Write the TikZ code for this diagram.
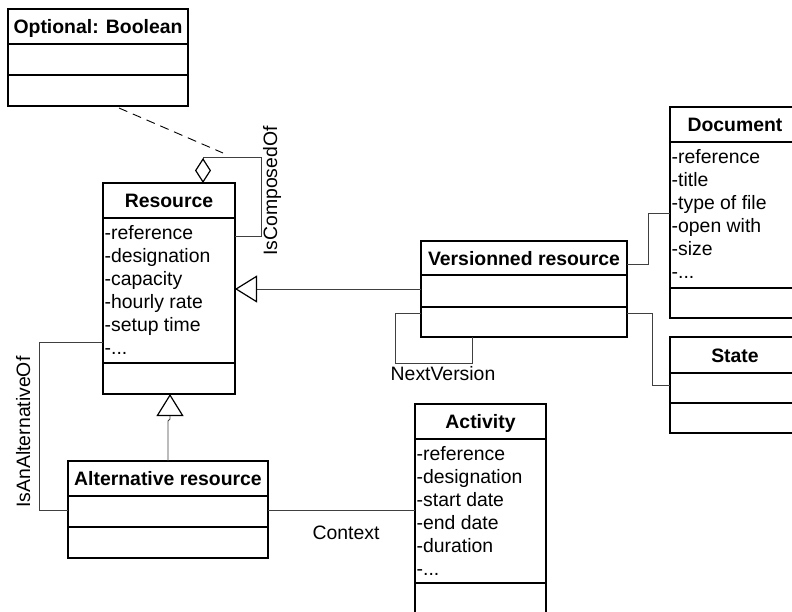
\documentclass[tikz,border=0pt]{standalone}
\usepackage{fontspec}
\setmainfont{Liberation Sans}
\usetikzlibrary{arrows.meta}
\definecolor{connc}{RGB}{64,64,64}
\newcommand{\attrdots}{-...}
\tikzset{
  cls/.style={draw=black, line width=1.5pt, rectangle, inner sep=0pt, outer sep=0pt, anchor=north west, fill=white},
  sepline/.style={draw=black, line width=1.5pt},
  title/.style={anchor=base, inner sep=0pt, font=\fontsize{19.4}{23}\selectfont\bfseries},
  attr/.style={anchor=base west, inner sep=0pt, font=\fontsize{19.4}{23}\selectfont},
  lbl/.style={anchor=base, inner sep=0pt, font=\fontsize{19.4}{23}\selectfont},
  conn/.style={draw=connc, line width=0.9pt},
  dashline/.style={draw=black, line width=0.9pt, dash pattern=on 9pt off 6pt},
  gentip/.style={-{Triangle[open, length=22pt, width=27pt, line width=1.2pt, color=black]}},
  aggtip/.style={-{Diamond[open, length=25pt, width=16pt, line width=1.2pt, color=black]}},
}
\begin{document}
\begin{tikzpicture}[x=1pt, y=-1pt]
\useasboundingbox (0,0) rectangle (792,611);

% ---- class boxes ----
\node[cls, minimum width=180pt, minimum height=97pt] (opt) at (8,9) {};
\node[cls, minimum width=132pt, minimum height=211pt] (res) at (103,183) {};
\node[cls, minimum width=206pt, minimum height=96pt] (ver) at (421,241) {};
\node[cls, minimum width=130pt, minimum height=211pt] (doc) at (670,107) {};
\node[cls, minimum width=130pt, minimum height=96pt] (state) at (670,337) {};
\node[cls, minimum width=200pt, minimum height=97pt] (alt) at (68,461) {};
\node[cls, minimum width=131pt, minimum height=225pt] (act) at (415,404) {};

% compartments
\draw[sepline] ([yshift=-35pt]opt.north west) -- ([yshift=-35pt]opt.north east);
\draw[sepline] ([yshift=-66pt]opt.north west) -- ([yshift=-66pt]opt.north east);
\draw[sepline] ([yshift=-35pt]res.north west) -- ([yshift=-35pt]res.north east);
\draw[sepline] ([yshift=-180pt]res.north west) -- ([yshift=-180pt]res.north east);
\draw[sepline] ([yshift=-34pt]ver.north west) -- ([yshift=-34pt]ver.north east);
\draw[sepline] ([yshift=-66pt]ver.north west) -- ([yshift=-66pt]ver.north east);
\draw[sepline] ([yshift=-35pt]doc.north west) -- ([yshift=-35pt]doc.north east);
\draw[sepline] ([yshift=-181pt]doc.north west) -- ([yshift=-181pt]doc.north east);
\draw[sepline] ([yshift=-36pt]state.north west) -- ([yshift=-36pt]state.north east);
\draw[sepline] ([yshift=-66pt]state.north west) -- ([yshift=-66pt]state.north east);
\draw[sepline] ([yshift=-35pt]alt.north west) -- ([yshift=-35pt]alt.north east);
\draw[sepline] ([yshift=-66pt]alt.north west) -- ([yshift=-66pt]alt.north east);
\draw[sepline] ([yshift=-35pt]act.north west) -- ([yshift=-35pt]act.north east);
\draw[sepline] ([yshift=-179pt]act.north west) -- ([yshift=-179pt]act.north east);

% titles
\node[title] (opt-t) at (98,33.5) {Optional: Boolean};
\node[title] (res-t) at (169,207.5) {Resource};
\node[title] (ver-t) at (524,265) {Versionned resource};
\node[title] (doc-t) at (735,131.5) {Document};
\node[title] (state-t) at (735,362) {State};
\node[title] (alt-t) at (168,485.5) {Alternative resource};
\node[title] (act-t) at (480.5,428.5) {Activity};

% attributes
\foreach \t [count=\i] in {-reference,-designation,-capacity,-hourly rate,-setup time,\attrdots}
  \node[attr] (res-a\i) at (104.5,{239+23*(\i-1)}) {\t};
\foreach \t [count=\i] in {-reference,-title,-type of file,-open with,-size,\attrdots}
  \node[attr] (doc-a\i) at (671.5,{163+23*(\i-1)}) {\t};
\foreach \t [count=\i] in {-reference,-designation,-start date,-end date,-duration,\attrdots}
  \node[attr] (act-a\i) at (416.5,{460+23*(\i-1)}) {\t};

% ---- connectors ----
% association class (dashed)
\coordinate (dashend) at (223,153);
\draw[dashline] ([xshift=21pt,yshift=-2pt]opt.south) -- (dashend);

% IsComposedOf aggregation (self)
\draw[conn, aggtip] ([yshift=-53pt]res.north east) -- ++(26,0) -- ++(0,-79) -| ([xshift=100pt]res.north west);

% generalizations
\draw[conn, gentip] ([yshift=-48pt]ver.north west) -- ([yshift=-106pt]res.north east);
\draw[conn, gentip] ([xshift=100pt]alt.north west) -- ++(0,-40) -- ++(2,-2) -- ([xshift=67pt]res.south west);

% IsAnAlternativeOf
\draw[conn] ([yshift=-159pt]res.north west) -- ++(-64,0) |- ([yshift=-49pt]alt.north west);

% NextVersion (self)
\draw[conn] ([yshift=-72pt]ver.north west) -- ++(-26,0) -- ++(0,50) -| ([xshift=51pt]ver.south west);

% to Document and State
\draw[conn] ([yshift=-23pt]ver.north east) -- ++(21,0) |- ([yshift=-106pt]doc.north west);
\draw[conn] ([yshift=-72pt]ver.north east) -- ++(25,0) |- ([yshift=-48pt]state.north west);

% Context
\draw[conn] ([yshift=-49pt]alt.north east) -- ([yshift=-106pt]act.north west);

% labels
\node[lbl, rotate=90] (l-comp) at (277,191) {IsComposedOf};
\node[lbl, rotate=90] (l-alt) at (30,432) {IsAnAlternativeOf};
\node[lbl] (l-next) at (443,380) {NextVersion};
\node[lbl] (l-ctx) at (346,539) {Context};
\end{tikzpicture}
\end{document}
